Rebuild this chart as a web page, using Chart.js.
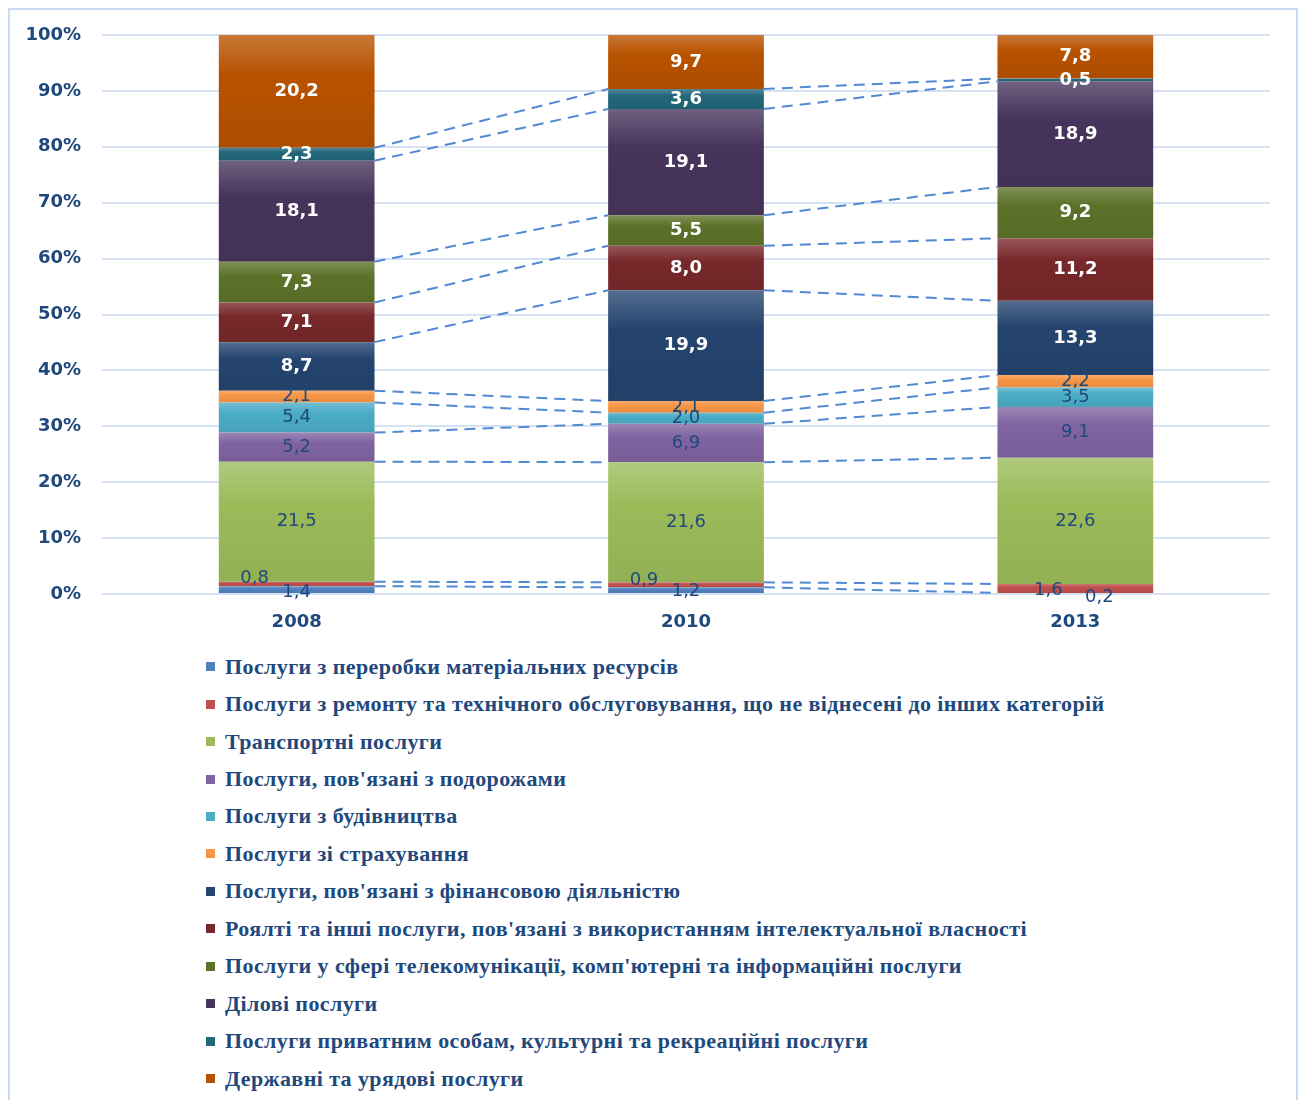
<!DOCTYPE html>
<html lang="uk">
<head>
<meta charset="utf-8">
<title>Структура експорту послуг</title>
<script src="https://cdn.jsdelivr.net/npm/chart.js@4.4.1/dist/chart.umd.min.js"></script>
<style>
  html, body { margin: 0; padding: 0; background: #fff; }
  #frame { position: absolute; left: 8px; top: 8px; width: 1290px; height: 1100px; border: 2px solid #c9dbf1; box-sizing: border-box; }
  #wrap { position: absolute; left: 0; top: 0; width: 1300px; height: 640px; }
  #legend { position: absolute; left: 206px; top: 648px; margin: 0; padding: 0; list-style: none;
            font: bold 22px 'Liberation Serif', serif; letter-spacing: 0.4px; color: #1f497d; }
  #legend li { height: 37.45px; display: flex; align-items: center; white-space: nowrap; }
  #legend .box { width: 9px; height: 9px; margin-right: 10px; display: inline-block; }
</style>
</head>
<body>
<div id="frame"></div>
<div id="wrap"><canvas id="chartServices"></canvas></div>
<ul id="legend"></ul>
<script>
// роки (категорії)
const years = ['2008', '2010', '2013'];

// частки, % (по роках 2008, 2010, 2013)
const processing   = [1.4, 1.2, 0.2];
const repair       = [0.8, 0.9, 1.6];
const transport    = [21.5, 21.6, 22.6];
const travel       = [5.2, 6.9, 9.1];
const construction = [5.4, 2.0, 3.5];
const insurance    = [2.1, 2.1, 2.2];
const financial    = [8.7, 19.9, 13.3];
const royalties    = [7.1, 8.0, 11.2];
const telecom      = [7.3, 5.5, 9.2];
const business     = [18.1, 19.1, 18.9];
const personal     = [2.3, 3.6, 0.5];
const government   = [20.2, 9.7, 7.8];

const yTicks = [0, 10, 20, 30, 40, 50, 60, 70, 80, 90, 100];

const seriesNames = [
    'Послуги з переробки матеріальних ресурсів',
    'Послуги з ремонту та технічного обслуговування, що не віднесені  до інших категорій',
    'Транспортні послуги',
    "Послуги, пов'язані з подорожами",
    'Послуги з будівництва',
    'Послуги зі страхування',
    "Послуги, пов'язані з фінансовою діяльністю",
    "Роялті та інші послуги, пов'язані з використанням інтелектуальної власності",
    "Послуги у сфері телекомунікації, комп'ютерні та інформаційні послуги",
    'Ділові послуги',
    'Послуги приватним особам, культурні та рекреаційні послуги',
    'Державні та урядові послуги'
];
const seriesValues = [processing, repair, transport, travel, construction, insurance,
                      financial, royalties, telecom, business, personal, government];

const colors = ['#4f81bd', '#c0504d', '#9bbb59', '#8064a2', '#4bacc6', '#f79646',
                '#24446f', '#77282a', '#5c7229', '#47345c', '#22677a', '#b85200'];
const NAVY = '#1f497d';
const darkSeries = 6; // з цього індексу підписи білі

// зсуви підписів для дрібних сегментів внизу (як в оригіналі)
const labelNudge = { '0-0': [0, 3], '1-0': [-42, -6], '0-1': [0, 1], '1-1': [-42, -4], '1-2': [-27, 2], '0-2': [24, 4] };

// 100% нормування як у Excel
const totals = years.map((_, j) => seriesValues.reduce((s, arr) => s + arr[j], 0));
const plotted = seriesValues.map(arr => arr.map((v, j) => v / totals[j] * 100));
const cumBelow = plotted.map((arr, i) => arr.map((_, j) => {
    let s = 0;
    for (let k = 0; k < i; k++) s += plotted[k][j];
    return s;
}));

function mix(hex, hex2, t) {
    const a = parseInt(hex.slice(1), 16), b = parseInt(hex2.slice(1), 16);
    const ch = (x, sh) => (x >> sh) & 255;
    const r = Math.round(ch(a, 16) + (ch(b, 16) - ch(a, 16)) * t);
    const g = Math.round(ch(a, 8) + (ch(b, 8) - ch(a, 8)) * t);
    const bl = Math.round(ch(a, 0) + (ch(b, 0) - ch(a, 0)) * t);
    return 'rgb(' + r + ',' + g + ',' + bl + ')';
}

function segGradient(ctx) {
    const c = colors[ctx.datasetIndex];
    if (ctx.type !== 'data') return c;
    const y = ctx.chart.scales.y;
    if (!y) return c;
    const lo = cumBelow[ctx.datasetIndex][ctx.dataIndex];
    const hi = lo + plotted[ctx.datasetIndex][ctx.dataIndex];
    const top = y.getPixelForValue(hi), bot = y.getPixelForValue(lo);
    if (!isFinite(top) || !isFinite(bot) || bot - top < 1) return c;
    const g = ctx.chart.ctx.createLinearGradient(0, top, 0, bot);
    g.addColorStop(0, mix(c, '#ffffff', 0.22));
    g.addColorStop(0.35, c);
    g.addColorStop(1, mix(c, '#000000', 0.06));
    return g;
}

const fmt = v => v.toFixed(1).replace('.', ',');

// лінії рядів (пунктир між стовпцями) + підписи значень
const seriesLinesAndLabels = {
    id: 'seriesLinesAndLabels',
    afterDatasetsDraw(chart) {
        const ctx = chart.ctx;
        ctx.save();
        ctx.strokeStyle = '#5189d3';
        ctx.lineWidth = 2;
        ctx.setLineDash([11, 7]);
        for (let i = 0; i < seriesValues.length - 1; i++) {
            const bars = chart.getDatasetMeta(i).data;
            for (let j = 0; j < bars.length - 1; j++) {
                const a = bars[j], b = bars[j + 1];
                ctx.beginPath();
                ctx.moveTo(a.x + a.width / 2, a.y);
                ctx.lineTo(b.x - b.width / 2, b.y);
                ctx.stroke();
            }
        }
        ctx.setLineDash([]);
        ctx.textAlign = 'center';
        ctx.textBaseline = 'middle';
        seriesValues.forEach((arr, i) => {
            const bars = chart.getDatasetMeta(i).data;
            bars.forEach((bar, j) => {
                const nudge = labelNudge[i + '-' + j] || [0, 0];
                const white = i >= darkSeries;
                ctx.font = (white ? 'bold ' : '') + '18px "DejaVu Sans", sans-serif';
                ctx.fillStyle = white ? '#ffffff' : NAVY;
                ctx.fillText(fmt(arr[j]), bar.x + nudge[0], (bar.y + bar.base) / 2 + nudge[1]);
            });
        });
        ctx.restore();
    }
};

const chart = new Chart(document.getElementById('chartServices'), {
    type: 'bar',
    data: {
        labels: years,
        datasets: seriesNames.map((name, i) => ({
            label: name,
            data: plotted[i],
            backgroundColor: segGradient,
            borderWidth: 0,
            categoryPercentage: 1,
            barPercentage: 0.4
        }))
    },
    options: {
        responsive: true,
        maintainAspectRatio: false,
        animation: false,
        layout: { padding: { left: 0, right: 30, top: 35, bottom: 0 } },
        plugins: { legend: { display: false }, tooltip: { enabled: false } },
        scales: {
            x: {
                stacked: true,
                grid: { display: false },
                border: { display: false },
                ticks: { color: NAVY, padding: 10, font: { family: 'DejaVu Sans', size: 18, weight: 'bold' } },
                afterFit: s => { s.height = 46; }
            },
            y: {
                stacked: true,
                min: 0,
                max: 100,
                afterBuildTicks: s => { s.ticks = yTicks.map(v => ({ value: v })); },
                grid: { color: '#d5e2f3', lineWidth: 2, drawTicks: false },
                border: { display: false },
                ticks: { color: NAVY, padding: 21, callback: v => v + '%',
                         font: { family: 'DejaVu Sans', size: 18, weight: 'bold' } },
                afterFit: s => { s.width = 102; }
            }
        }
    },
    plugins: [seriesLinesAndLabels]
});

// легенда списком під діаграмою
const legend = document.getElementById('legend');
seriesNames.forEach((name, i) => {
    const li = document.createElement('li');
    const box = document.createElement('span');
    box.className = 'box';
    box.style.background = colors[i];
    li.appendChild(box);
    li.appendChild(document.createTextNode(name));
    legend.appendChild(li);
});
</script>
</body>
</html>
